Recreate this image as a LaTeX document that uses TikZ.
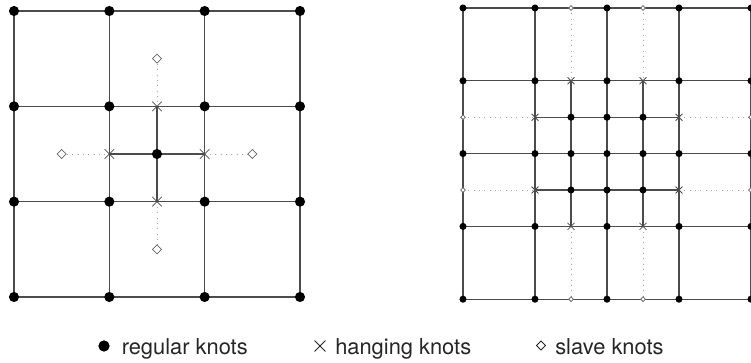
\documentclass[tikz,border=0pt]{standalone}
\usepackage{fontspec}
\setmainfont{TeX Gyre Heros}
\usetikzlibrary{shapes.misc,shapes.geometric}

\begin{document}
\begin{tikzpicture}[x=0.75pt,y=-0.75pt,
  mesh/.style={draw=black!70, line width=0.95pt},
  slavelink/.style={draw=black!35, line width=0.7pt, dash pattern=on 0.7pt off 3.3pt},
  regknot/.style={circle, fill=black, draw=none, inner sep=0pt, minimum size=#1},
  hangknot/.style={cross out, draw=black!70, line width=0.6pt, inner sep=0pt, minimum size=#1},
  slaveknot/.style={diamond, draw=black!60, fill=white, line width=0.6pt, inner sep=0pt, minimum size=#1},
  legendtext/.style={anchor=base west, inner sep=0pt, font=\fontsize{16.4}{19}\selectfont, text=black!85}
]
\useasboundingbox (0,0) rectangle (751,363);

% ---------- left mesh: 3x3 coarse cells, centre cell refined ----------
\foreach \i in {0,...,3}{
  \foreach \j in {0,...,3}{
    \coordinate (L-\i-\j) at ({14+95.33*\i},{11+95.33*\j});
  }
}
\coordinate (Lc) at ({14+95.33*1.5},{11+95.33*1.5});
\coordinate (Lh-t) at ({14+95.33*1.5},{11+95.33*1});
\coordinate (Lh-b) at ({14+95.33*1.5},{11+95.33*2});
\coordinate (Lh-l) at ({14+95.33*1},{11+95.33*1.5});
\coordinate (Lh-r) at ({14+95.33*2},{11+95.33*1.5});
\coordinate (Ls-t) at ({14+95.33*1.5},{11+95.33*0.5});
\coordinate (Ls-b) at ({14+95.33*1.5},{11+95.33*2.5});
\coordinate (Ls-l) at ({14+95.33*0.5},{11+95.33*1.5});
\coordinate (Ls-r) at ({14+95.33*2.5},{11+95.33*1.5});

\foreach \k in {0,...,3}{
  \draw[mesh] (L-0-\k) -- (L-3-\k);
  \draw[mesh] (L-\k-0) -- (L-\k-3);
}
\draw[mesh] (Lh-t) -- (Lh-b);
\draw[mesh] (Lh-l) -- (Lh-r);
\draw[slavelink] (Ls-t) -- (Lh-t);
\draw[slavelink] (Lh-b) -- (Ls-b);
\draw[slavelink] (Ls-l) -- (Lh-l);
\draw[slavelink] (Lh-r) -- (Ls-r);

\foreach \i in {0,...,3}{
  \foreach \j in {0,...,3}{
    \node[regknot=7.6pt] (Ld-\i-\j) at (L-\i-\j) {};
  }
}
\node[regknot=7.6pt] (Ld-c) at (Lc) {};
\foreach \s in {t,b,l,r}{
  \node[hangknot=6.5pt] (Lx-\s) at (Lh-\s) {};
  \node[slaveknot=7pt] (Lo-\s) at (Ls-\s) {};
}

% ---------- right mesh: 4x4 coarse cells, central block refined ----------
\foreach \i/\u in {0/0,1/1,2/1.5,3/2,4/2.5,5/3,6/4}{
  \foreach \j/\v in {0/0,1/1,2/1.5,3/2,4/2.5,5/3,6/4}{
    \coordinate (R-\i-\j) at ({463+72*\u},{8+72.8*\v});
  }
}
\foreach \k in {0,1,3,5,6}{
  \draw[mesh] (R-0-\k) -- (R-6-\k);
  \draw[mesh] (R-\k-0) -- (R-\k-6);
}
\foreach \k in {2,4}{
  \draw[mesh] (R-1-\k) -- (R-5-\k);
  \draw[mesh] (R-\k-1) -- (R-\k-5);
  \draw[slavelink] (R-0-\k) -- (R-1-\k);
  \draw[slavelink] (R-5-\k) -- (R-6-\k);
  \draw[slavelink] (R-\k-0) -- (R-\k-1);
  \draw[slavelink] (R-\k-5) -- (R-\k-6);
}

\foreach \i in {0,1,3,5,6}{
  \foreach \j in {0,1,3,5,6}{
    \node[regknot=5.3pt] (Rd-\i-\j) at (R-\i-\j) {};
  }
}
\foreach \i in {2,3,4}{
  \foreach \j in {2,4}{
    \node[regknot=5.3pt] (Rd-\i-\j) at (R-\i-\j) {};
  }
}
\foreach \i in {2,4}{
  \node[regknot=5.3pt] (Rd-\i-3) at (R-\i-3) {};
}
\foreach \a/\b in {2/1,4/1,2/5,4/5,1/2,5/2,1/4,5/4}{
  \node[hangknot=4.6pt] (Rx-\a-\b) at (R-\a-\b) {};
}
\foreach \a/\b in {2/0,4/0,2/6,4/6,0/2,6/2,0/4,6/4}{
  \node[slaveknot=3.8pt] (Ro-\a-\b) at (R-\a-\b) {};
}

% ---------- legend ----------
\node[regknot=8.5pt] (key-reg) at (104,346) {};
\node[legendtext] (key-reg-text) at (121.5,355) {regular knots};
\node[hangknot=7.5pt, draw=black!85, line width=0.7pt] (key-hang) at (320,346) {};
\node[legendtext] (key-hang-text) at (335,355) {hanging knots};
\node[slaveknot=7pt, draw=black!85, line width=0.7pt] (key-slave) at (541,345.5) {};
\node[legendtext] (key-slave-text) at (555,355) {slave knots};
\end{tikzpicture}
\end{document}
